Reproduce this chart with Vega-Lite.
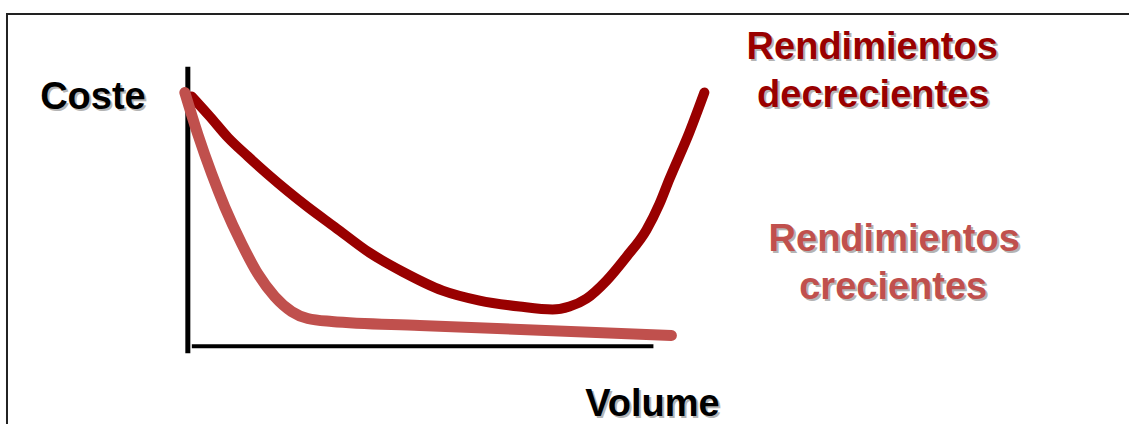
{
  "$schema": "https://vega.github.io/schema/vega-lite/v6.json",
  "width": 1130,
  "height": 426,
  "autosize": {"type": "fit", "contains": "padding"},
  "padding": 0,
  "background": "white",
  "config": {"view": {"stroke": null}},
  "datasets": {
    "frame": [
      {"volume": 7, "cost": 412, "volume2": 1130, "cost2": 412},
      {"volume": 7, "cost": 413, "volume2": 7, "cost2": 0}
    ],
    "yaxis": [{"volume": 188, "cost": 359, "volume2": 188, "cost2": 71}],
    "xaxis": [{"volume": 192, "cost": 78, "volume2": 654, "cost2": 78}],
    "decrecientes": [
      {"volume": 192, "cost": 329},
      {"volume": 210, "cost": 309},
      {"volume": 228, "cost": 288},
      {"volume": 248, "cost": 269},
      {"volume": 268, "cost": 251},
      {"volume": 288, "cost": 234},
      {"volume": 308, "cost": 218},
      {"volume": 335, "cost": 198},
      {"volume": 370, "cost": 172},
      {"volume": 403, "cost": 153},
      {"volume": 443, "cost": 134},
      {"volume": 480, "cost": 124},
      {"volume": 520, "cost": 118},
      {"volume": 553, "cost": 115},
      {"volume": 570, "cost": 118},
      {"volume": 587, "cost": 126},
      {"volume": 607, "cost": 144},
      {"volume": 627, "cost": 168},
      {"volume": 647, "cost": 195},
      {"volume": 660, "cost": 221},
      {"volume": 670, "cost": 246},
      {"volume": 690, "cost": 293},
      {"volume": 705, "cost": 333}
    ],
    "crecientes": [
      {"volume": 185, "cost": 333},
      {"volume": 198, "cost": 291},
      {"volume": 212, "cost": 251},
      {"volume": 225, "cost": 218},
      {"volume": 242, "cost": 181},
      {"volume": 258, "cost": 151},
      {"volume": 275, "cost": 128},
      {"volume": 292, "cost": 113},
      {"volume": 308, "cost": 106},
      {"volume": 332, "cost": 103},
      {"volume": 420, "cost": 99},
      {"volume": 672, "cost": 89}
    ],
    "labels": [
      {"text": "Coste", "series": "negro", "volume": 93, "cost": 316},
      {"text": "Volume", "series": "negro", "volume": 653, "cost": 8},
      {"text": "Rendimientos", "series": "decrecientes", "volume": 873, "cost": 367},
      {"text": "decrecientes", "series": "decrecientes", "volume": 874, "cost": 318},
      {"text": "Rendimientos", "series": "crecientes", "volume": 895, "cost": 174},
      {"text": "crecientes", "series": "crecientes", "volume": 894, "cost": 126}
    ]
  },
  "layer": [
    {
      "data": {"name": "frame"},
      "mark": {"type": "rule", "color": "#222222", "strokeWidth": 2},
      "encoding": {
        "x": {"field": "volume", "type": "quantitative", "scale": {"domain": [0, 1130], "nice": false, "zero": false}, "axis": null},
        "y": {"field": "cost", "type": "quantitative", "scale": {"domain": [0, 426], "nice": false, "zero": false}, "axis": null},
        "x2": {"field": "volume2"},
        "y2": {"field": "cost2"}
      }
    },
    {
      "data": {"name": "yaxis"},
      "mark": {"type": "rule", "color": "#000000", "strokeWidth": 5},
      "encoding": {
        "x": {"field": "volume", "type": "quantitative", "axis": null},
        "y": {"field": "cost", "type": "quantitative", "axis": null},
        "x2": {"field": "volume2"},
        "y2": {"field": "cost2"}
      }
    },
    {
      "data": {"name": "xaxis"},
      "mark": {"type": "rule", "color": "#000000", "strokeWidth": 4},
      "encoding": {
        "x": {"field": "volume", "type": "quantitative", "axis": null},
        "y": {"field": "cost", "type": "quantitative", "axis": null},
        "x2": {"field": "volume2"},
        "y2": {"field": "cost2"}
      }
    },
    {
      "data": {"name": "decrecientes"},
      "mark": {"type": "line", "color": "#990000", "strokeWidth": 10, "strokeCap": "round", "strokeJoin": "round", "interpolate": "monotone"},
      "encoding": {
        "x": {"field": "volume", "type": "quantitative", "axis": null},
        "y": {"field": "cost", "type": "quantitative", "axis": null}
      }
    },
    {
      "data": {"name": "crecientes"},
      "mark": {"type": "line", "color": "#C0504D", "strokeWidth": 11, "strokeCap": "round", "strokeJoin": "round", "interpolate": "monotone"},
      "encoding": {
        "x": {"field": "volume", "type": "quantitative", "axis": null},
        "y": {"field": "cost", "type": "quantitative", "axis": null}
      }
    },
    {
      "data": {"name": "labels"},
      "mark": {"type": "text", "font": "Liberation Sans", "fontWeight": "bold", "fontSize": 38, "align": "center", "baseline": "alphabetic", "color": "#b4b4b4", "dx": 2, "dy": 2},
      "encoding": {
        "x": {"field": "volume", "type": "quantitative", "axis": null},
        "y": {"field": "cost", "type": "quantitative", "axis": null},
        "text": {"field": "text"}
      }
    },
    {
      "data": {"name": "labels"},
      "mark": {"type": "text", "font": "Liberation Sans", "fontWeight": "bold", "fontSize": 38, "align": "center", "baseline": "alphabetic"},
      "encoding": {
        "x": {"field": "volume", "type": "quantitative", "axis": null},
        "y": {"field": "cost", "type": "quantitative", "axis": null},
        "text": {"field": "text"},
        "color": {"field": "series", "type": "nominal", "scale": {"domain": ["negro", "decrecientes", "crecientes"], "range": ["#000000", "#990000", "#C0504D"]}, "legend": null}
      }
    }
  ]
}
